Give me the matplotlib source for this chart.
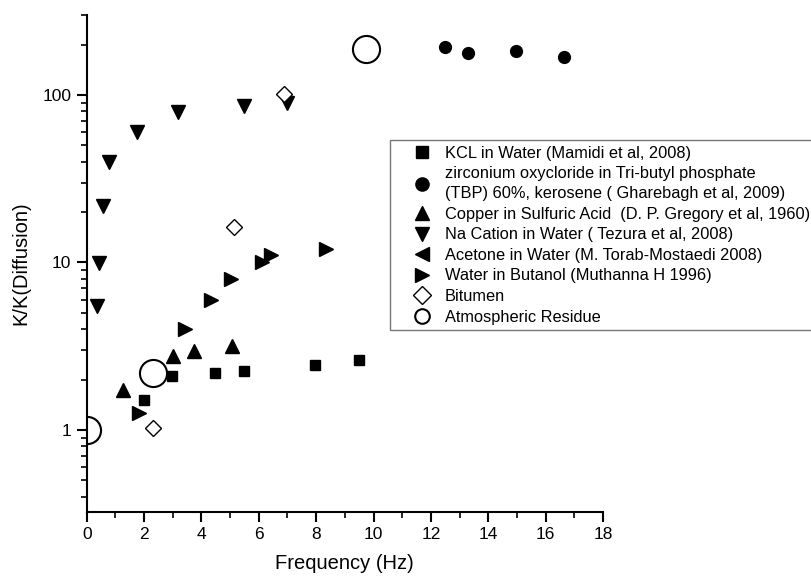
import numpy as np
import matplotlib.pyplot as plt
from matplotlib.ticker import LogLocator, NullFormatter, FixedLocator, FixedFormatter

plt.rcParams['font.family'] = ['Liberation Sans', 'DejaVu Sans']

# data
kcl_x = [2.0, 2.99, 4.48, 5.47, 7.97, 9.48]
kcl_y = [1.50, 2.10, 2.20, 2.24, 2.45, 2.61]

zr_x = [12.48, 13.3, 14.97, 16.64]
zr_y = [193, 178, 184, 168]

cu_x = [1.28, 3.02, 3.74, 5.07]
cu_y = [1.72, 2.77, 2.98, 3.15]

na_x = [0.37, 0.43, 0.58, 0.79, 1.77, 3.18, 5.48, 6.99]
na_y = [5.47, 9.96, 21.7, 39.9, 59.8, 79.4, 85.5, 89.8]

acetone_x = []
acetone_y = []

butanol_x = [1.82, 3.42, 4.32, 5.02, 6.1, 6.43, 8.33]
butanol_y = [1.26, 4.03, 6.0, 8.0, 10.1, 11.1, 12.1]

bitumen_x = [2.31, 5.15, 6.87]
bitumen_y = [1.03, 16.3, 101]

residue_x = [0.0, 2.31, 9.73]
residue_y = [1.0, 2.2, 187]

labels = [
    "KCL in Water (Mamidi et al, 2008)",
    "zirconium oxycloride in Tri-butyl phosphate\n(TBP) 60%, kerosene ( Gharebagh et al, 2009)",
    "Copper in Sulfuric Acid  (D. P. Gregory et al, 1960)",
    "Na Cation in Water ( Tezura et al, 2008)",
    "Acetone in Water (M. Torab-Mostaedi 2008)",
    "Water in Butanol (Muthanna H 1996)",
    "Bitumen",
    "Atmospheric Residue",
]

fig = plt.figure(figsize=(8.12, 5.82), dpi=100)
ax = fig.add_axes([0.1068, 0.1208, 0.6358, 0.8534])

ax.plot(kcl_x, kcl_y, "s", color="black", ms=7, ls="none", label=labels[0])
ax.plot(zr_x, zr_y, "o", color="black", ms=8.5, ls="none", label=labels[1])
ax.plot(cu_x, cu_y, "^", color="black", ms=9.5, ls="none", label=labels[2])
ax.plot(na_x, na_y, "v", color="black", ms=9.5, ls="none", label=labels[3])
ax.plot(acetone_x, acetone_y, "<", color="black", ms=9.5, ls="none", label=labels[4])
ax.plot(butanol_x, butanol_y, ">", color="black", ms=9.5, ls="none", label=labels[5])
ax.plot(bitumen_x, bitumen_y, "D", mfc="white", mec="black", mew=1.0, ms=8.5,
        ls="none", label=labels[6])
ax.plot(residue_x, residue_y, "o", mfc="white", mec="black", mew=1.5, ms=19.5,
        ls="none", label=labels[7])

ax.set_yscale("log")
ax.set_xlim(0, 18)
ax.set_ylim(0.325, 300)

ax.set_xticks(range(0, 19, 2))
ax.set_xticks(range(1, 18, 2), minor=True)
ax.yaxis.set_major_locator(FixedLocator([1, 10, 100]))
ax.yaxis.set_major_formatter(FixedFormatter(["1", "10", "100"]))
ax.yaxis.set_minor_locator(LogLocator(base=10, subs=np.arange(2, 10)))
ax.yaxis.set_minor_formatter(NullFormatter())

ax.spines["top"].set_visible(False)
ax.spines["right"].set_visible(False)
ax.spines["left"].set_linewidth(1.5)
ax.spines["bottom"].set_linewidth(1.5)
ax.tick_params(which="major", direction="out", length=7, width=1.5,
               labelsize=12.5, pad=4)
ax.tick_params(which="minor", direction="out", length=4, width=1.2)

ax.set_xlabel("Frequency (Hz)", fontsize=14.5, labelpad=9)
ax.set_ylabel("K/K(Diffusion)", fontsize=14.5, labelpad=9)

# legend, one marker per entry
handles, _ = ax.get_legend_handles_labels()
leg = fig.legend(handles, labels, loc="upper left",
                 bbox_to_anchor=(390 / 812, 1 - 140 / 582),
                 fontsize=11.8, frameon=True, fancybox=False,
                 edgecolor="#555555", labelspacing=0.34,
                 handletextpad=-0.2, borderpad=0.35, handlelength=3.2,
                 borderaxespad=0)
leg.get_frame().set_linewidth(1.0)
leg.get_texts()[1].set_linespacing(1.4)
legend_sizes = [8.5, 9.5, 9.5, 9.5, 9.5, 9.5, 9.0, 10.5]
for h, s in zip(leg.legend_handles, legend_sizes):
    h.set_markersize(s)

fig.savefig("out.png", dpi=100)
